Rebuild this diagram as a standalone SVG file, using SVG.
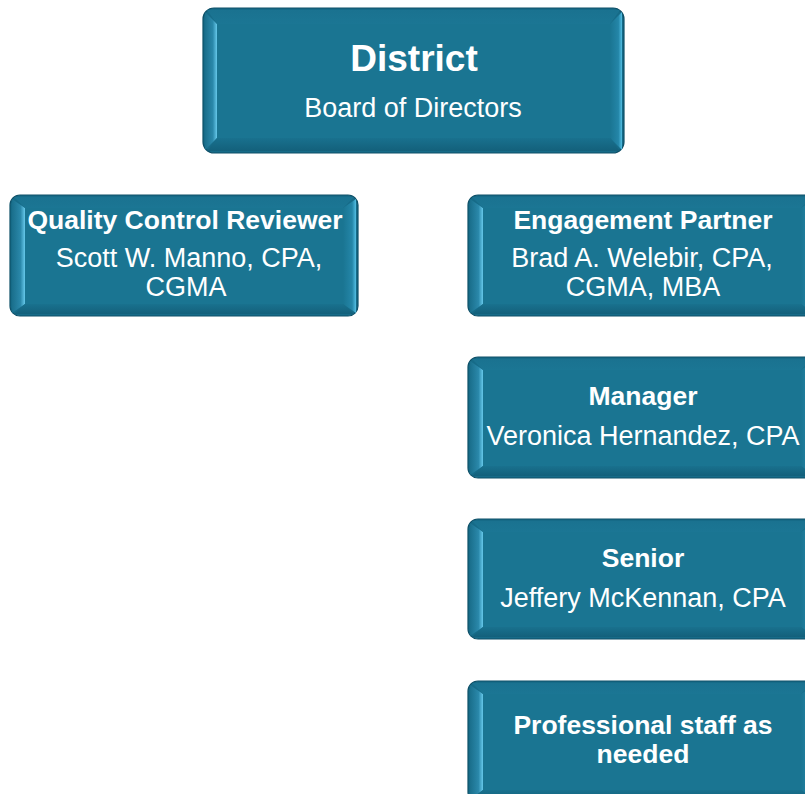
<svg xmlns="http://www.w3.org/2000/svg" width="805" height="794" viewBox="0 0 805 794">
<defs>
<linearGradient id="gL" x1="0" y1="0" x2="1" y2="0">
<stop offset="0" stop-color="#1a6f8c"/>
<stop offset="0.65" stop-color="#2a88aa"/>
<stop offset="1" stop-color="#66c8ea"/>
</linearGradient>
<linearGradient id="gR" x1="0" y1="0" x2="1" y2="0">
<stop offset="0" stop-color="#1a7592"/>
<stop offset="0.7" stop-color="#2486a8"/>
<stop offset="1" stop-color="#52bde2"/>
</linearGradient>
<linearGradient id="gT" x1="0" y1="0" x2="0" y2="1">
<stop offset="0" stop-color="#1a7290"/>
<stop offset="1" stop-color="#1b7694"/>
</linearGradient>
<linearGradient id="gB" x1="0" y1="0" x2="0" y2="1">
<stop offset="0" stop-color="#19718e"/>
<stop offset="1" stop-color="#13607b"/>
</linearGradient>
</defs>
<style>
.frame{fill:#166b88;stroke:#0e5068;stroke-width:1.2}
.face{fill:#1a7592}
.bl{fill:url(#gL)}
.br{fill:url(#gR)}
.bt{fill:url(#gT)}
.bb{fill:url(#gB)}
text{font-family:"Liberation Sans",Arial,sans-serif;fill:#ffffff;text-anchor:middle}
.h{font-weight:bold;font-size:26.5px}
.n{font-size:27px}
.big{font-weight:bold;font-size:37px}
</style>
<rect width="805" height="794" fill="#ffffff"/>
<g id="connectors"></g>

<g id="district">
<rect class="frame" x="203" y="8" width="421" height="145" rx="11"/>
<polygon class="bl" points="205,12 217,24 217,138 205,150"/>
<polygon class="br" points="622,12 610,24 610,138 622,150"/>
<polygon class="bt" points="207,10 620,10 610,24 217,24"/>
<polygon class="bb" points="207,151 620,151 610,138 217,138"/>
<rect class="face" x="217" y="24" width="393" height="114"/>
<text class="big" x="414" y="71">District</text>
<text class="n" x="413" y="117">Board of Directors</text>
</g>

<g id="qc">
<rect class="frame" x="10" y="195" width="348" height="121" rx="10"/>
<polygon class="bl" points="12,199 25,208 25,304 12,313"/>
<polygon class="br" points="356,199 343,208 343,304 356,313"/>
<polygon class="bt" points="14,197 354,197 343,208 25,208"/>
<polygon class="bb" points="14,314 354,314 343,304 25,304"/>
<rect class="face" x="25" y="208" width="318" height="96"/>
<text class="h" x="185" y="229">Quality Control Reviewer</text>
<text class="n" x="189" y="267">Scott W. Manno, CPA,</text>
<text class="n" x="186" y="296">CGMA</text>
</g>

<g id="engagement">
<rect class="frame" x="468" y="195" width="348" height="121" rx="10"/>
<polygon class="bl" points="470,199 483,208 483,304 470,313"/>
<polygon class="br" points="814,199 801,208 801,304 814,313"/>
<polygon class="bt" points="472,197 812,197 801,208 483,208"/>
<polygon class="bb" points="472,314 812,314 801,304 483,304"/>
<rect class="face" x="483" y="208" width="318" height="96"/>
<text class="h" x="643" y="229">Engagement Partner</text>
<text class="n" x="642" y="267">Brad A. Welebir, CPA,</text>
<text class="n" x="643" y="296">CGMA, MBA</text>
</g>

<g id="manager">
<rect class="frame" x="468" y="357" width="348" height="121" rx="10"/>
<polygon class="bl" points="470,361 483,370 483,466 470,475"/>
<polygon class="br" points="814,361 801,370 801,466 814,475"/>
<polygon class="bt" points="472,359 812,359 801,370 483,370"/>
<polygon class="bb" points="472,476 812,476 801,466 483,466"/>
<rect class="face" x="483" y="370" width="318" height="96"/>
<text class="h" x="643" y="405">Manager</text>
<text class="n" x="643" y="445">Veronica Hernandez, CPA</text>
</g>

<g id="senior">
<rect class="frame" x="468" y="519" width="348" height="120" rx="10"/>
<polygon class="bl" points="470,523 483,532 483,627 470,636"/>
<polygon class="br" points="814,523 801,532 801,627 814,636"/>
<polygon class="bt" points="472,521 812,521 801,532 483,532"/>
<polygon class="bb" points="472,637 812,637 801,627 483,627"/>
<rect class="face" x="483" y="532" width="318" height="95"/>
<text class="h" x="643" y="567">Senior</text>
<text class="n" x="643" y="607">Jeffery McKennan, CPA</text>
</g>

<g id="staff">
<rect class="frame" x="468" y="681" width="348" height="121" rx="10"/>
<polygon class="bl" points="470,685 483,694 483,790 470,799"/>
<polygon class="br" points="814,685 801,694 801,790 814,799"/>
<polygon class="bt" points="472,683 812,683 801,694 483,694"/>
<polygon class="bb" points="472,800 812,800 801,790 483,790"/>
<rect class="face" x="483" y="694" width="318" height="96"/>
<text class="h" x="643" y="734">Professional staff as</text>
<text class="h" x="643" y="763">needed</text>
</g>
</svg>
